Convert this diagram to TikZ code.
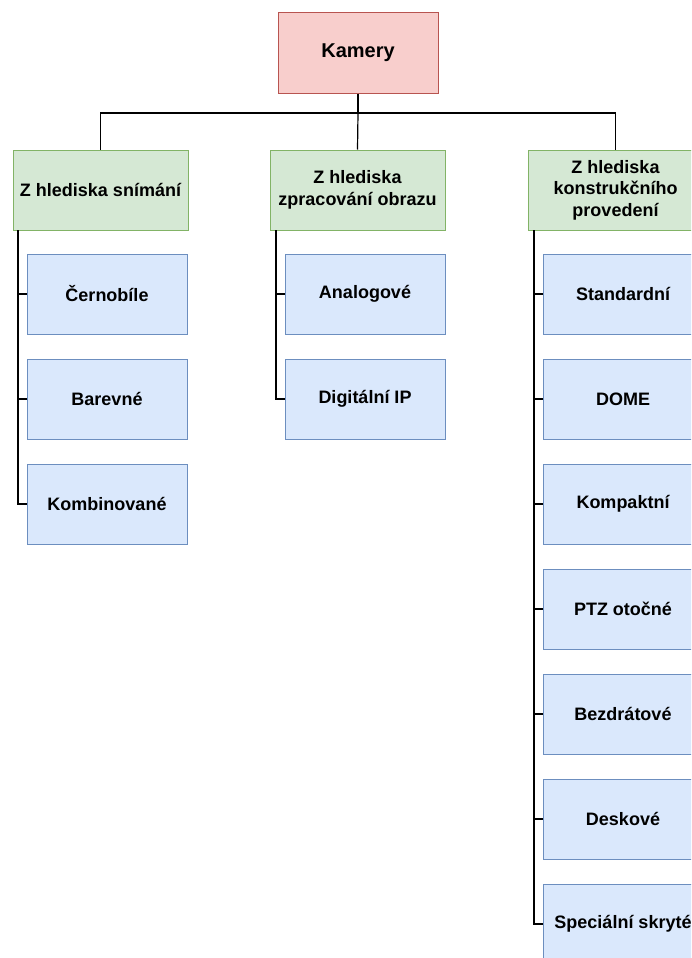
\documentclass[tikz,border=0pt]{standalone}
\usepackage{fontspec}
\setmainfont{Liberation Sans}
\begin{document}
\begin{tikzpicture}
    [x=1pt,y=-1pt,line width=1.2pt,
     box/.style={draw,line width=1pt,inner sep=0pt,align=center,minimum height=80pt,
       font=\bfseries\fontsize{18}{21.5}\selectfont},
     root/.style={box,draw=rootline,fill=rootfill,minimum width=160pt,
       font=\bfseries\fontsize{20}{23}\selectfont},
     group/.style={box,draw=groupline,fill=groupfill,minimum width=175pt},
     item/.style={box,draw=itemline,fill=itemfill,minimum width=160pt}]
    \definecolor{rootfill}{HTML}{F8CECC}
    \definecolor{rootline}{HTML}{B85450}
    \definecolor{groupfill}{HTML}{D5E8D4}
    \definecolor{groupline}{HTML}{82B366}
    \definecolor{itemfill}{HTML}{DAE8FC}
    \definecolor{itemline}{HTML}{6C8EBF}
    \clip (0,0) rectangle (691,958);
    \useasboundingbox (0,0) rectangle (691,958);
    \node [root] (cam) at (358,53) {Kamery};
    \node [group] (sn) at (100.5,190) {Z hlediska snímání};
    \node [group] (zp) at (357.5,190) {Z hlediska\\zpracování obrazu};
    \node [group] (ko) at (615.5,190) {Z hlediska\\konstrukčního\\provedení};
    \coordinate (bus) at (358,113);
    \draw (cam.south)--(bus);
    \draw (sn.north) |- (bus) -| (ko.north);
    \draw (bus)--(zp.north);
    \node [item] (sn1) at (107,294) {Černobíle};
    \node [item] (sn2) at (107,399) {Barevné};
    \node [item] (sn3) at (107,504) {Kombinované};
    \node [item] (zp1) at (365,294) {Analogové};
    \node [item] (zp2) at (365,399) {Digitální IP};
    \node [item] (ko1) at (623,294) {Standardní};
    \node [item] (ko2) at (623,399) {DOME};
    \node [item] (ko3) at (623,504) {Kompaktní};
    \node [item] (ko4) at (623,609) {PTZ otočné};
    \node [item] (ko5) at (623,714) {Bezdrátové};
    \node [item] (ko6) at (623,819) {Deskové};
    \node [item] (ko7) at (623,924) {Speciální skryté};
    \coordinate (snT) at (18,230);
    \coordinate (zpT) at (276,230);
    \coordinate (koT) at (534,230);
    \draw (snT) |- (sn3.west);
    \draw (sn1.west)--(sn1.west-|snT);
    \draw (sn2.west)--(sn2.west-|snT);
    \draw (zpT) |- (zp2.west);
    \draw (zp1.west)--(zp1.west-|zpT);
    \draw (koT) |- (ko7.west);
    \draw (ko1.west)--(ko1.west-|koT);
    \draw (ko2.west)--(ko2.west-|koT);
    \draw (ko3.west)--(ko3.west-|koT);
    \draw (ko4.west)--(ko4.west-|koT);
    \draw (ko5.west)--(ko5.west-|koT);
    \draw (ko6.west)--(ko6.west-|koT);
  \end{tikzpicture}
\end{document}
